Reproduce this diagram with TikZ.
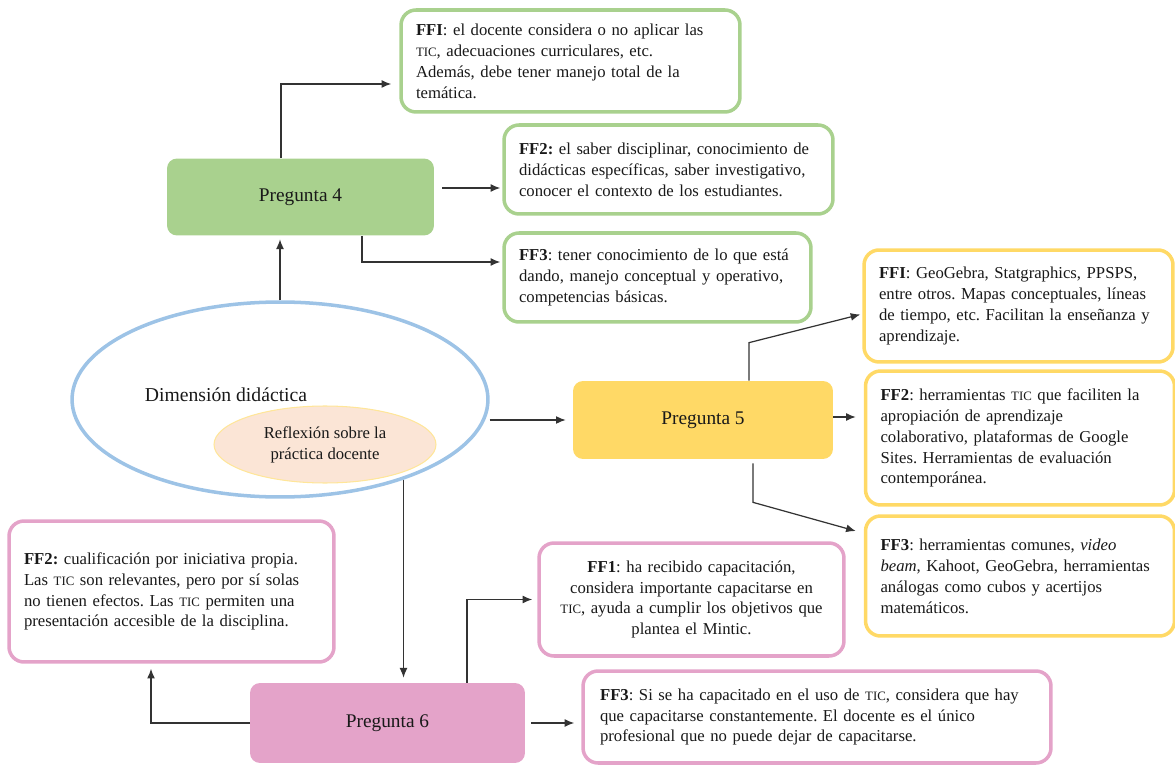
\documentclass[tikz,border=0pt]{standalone}
\usepackage{fontspec}
\setmainfont{Liberation Serif}
\usepackage{xcolor}
\usepackage{tikz}
\usetikzlibrary{shapes.geometric, arrows.meta}
\frenchspacing

\definecolor{verde}{HTML}{A9D18E}
\definecolor{amarillo}{HTML}{FFD966}
\definecolor{rosa}{HTML}{E4A3C9}
\definecolor{azul}{HTML}{9DC3E6}
\definecolor{durazno}{HTML}{FBE5D6}
\definecolor{crema}{HTML}{FFE699}

\newcommand{\tic}{{\fontsize{7.3}{8}\selectfont TIC}}

\begin{document}
\begin{tikzpicture}[>={Latex[length=5.5pt,width=4.5pt]}, x=0.02cm, y=-0.02cm,
    every node/.style={font=\fontsize{9.5}{11.9}\selectfont, text=black!90},
    caja/.style={draw, line width=2pt, rounded corners=0.3cm, align=left, inner xsep=0.3cm, fill=white},
    pregunta/.style={rounded corners=0.2cm, font=\fontsize{11}{13}\selectfont},
    flecha/.style={->, line width=0.7pt, draw=black!80}]
            \useasboundingbox (0,0) rectangle (1175,766);

            % Dimension didactica
            \node[ellipse, draw=azul, line width=2pt, minimum width=8.32cm, minimum height=3.9cm, inner sep=0pt] (Dimension) at (280,399.5) {};
            \node[font=\fontsize{11.2}{13}\selectfont] (Dimension-text) at (226,395) {Dimensión didáctica};
            \node[ellipse, draw=crema, fill=durazno, line width=0.6pt, minimum width=4.44cm, minimum height=1.54cm, inner sep=0pt, align=center] (Reflexion) at (325,444.5) {Reflexión sobre la\\práctica docente};

            % Pregunta 4
            \node[pregunta, fill=verde, minimum width=5.34cm, minimum height=1.54cm] (Pregunta-4) at (300.5,197) {Pregunta 4};
            \node[caja, draw=verde, text width=6.18cm, minimum height=2.04cm] (FF4-1) at (570.5,61) {\textbf{FFI}: el docente considera o no aplicar las\\ \tic, adecuaciones curriculares, etc.\\ Además, debe tener manejo total de la\\ temática.};
            \node[caja, draw=verde, text width=5.98cm, minimum height=1.78cm] (FF4-2) at (668.5,169.5) {\textbf{FF2:} el saber disciplinar, conocimiento de\\ didácticas específicas, saber investigativo,\\ conocer el contexto de los estudiantes.};
            \node[caja, draw=verde, text width=5.54cm, minimum height=1.78cm] (FF4-3) at (657.5,277.5) {\textbf{FF3}: tener conocimiento de lo que está\\ dando, manejo conceptual y operativo,\\ competencias básicas.};

            % Pregunta 5
            \node[pregunta, fill=amarillo, minimum width=5.2cm, minimum height=1.56cm] (Pregunta-5) at (703,420) {Pregunta 5};
            \node[caja, draw=amarillo, text width=5.58cm, minimum height=2.24cm] (FF5-1) at (1018.5,306) {\textbf{FFI}: GeoGebra, Statgraphics, PPSPS,\\ entre otros. Mapas conceptuales, líneas\\ de tiempo, etc. Facilitan la enseñanza y\\ aprendizaje.};
            \node[caja, draw=amarillo, text width=5.58cm, minimum height=2.68cm] (FF5-2) at (1020,438) {\textbf{FF2}: herramientas \tic{} que faciliten la\\ apropiación de aprendizaje\\ colaborativo, plataformas de Google\\ Sites. Herramientas de evaluación\\ contemporánea.};
            \node[caja, draw=amarillo, text width=5.58cm, minimum height=2.4cm] (FF5-3) at (1020,576) {\textbf{FF3}: herramientas comunes, \textit{video}\\ \textit{beam}, Kahoot, GeoGebra, herramientas\\ análogas como cubos y acertijos\\ matemáticos.};

            % Pregunta 6
            \node[pregunta, fill=rosa, minimum width=5.5cm, minimum height=1.6cm] (Pregunta-6) at (387.5,723) {Pregunta 6};
            \node[caja, draw=rosa, text width=5.9cm, minimum height=2.82cm] (FF6-2) at (171.5,591.5) {\textbf{FF2:} cualificación por iniciativa propia.\\ Las \tic{} son relevantes, pero por sí solas\\ no tienen efectos. Las \tic{} permiten una\\ presentación accesible de la disciplina.\\[0.25cm]};
            \node[caja, draw=rosa, text width=5.5cm, align=center, minimum height=2.26cm] (FF6-1) at (691.5,599.5) {\textbf{FF1}: ha recibido capacitación,\\ considera importante capacitarse en\\ \tic, ayuda a cumplir los objetivos que\\ plantea el Mintic.};
            \node[caja, draw=rosa, text width=8.68cm, inner xsep=0.34cm, minimum height=1.84cm] (FF6-3) at (817,717) {\textbf{FF3}: Si se ha capacitado en el uso de \tic, considera que hay\\ que capacitarse constantemente. El docente es el único\\ profesional que no puede dejar de capacitarse.};

            % Draw connections from the dimension
            \draw[flecha, shorten >=2pt] (Dimension.north) -- (Dimension.north |- Pregunta-4.south);
            \draw[flecha, shorten >=0.14cm] (Pregunta-5.west -| Dimension.east) -- (Pregunta-5.west);
            \draw[flecha, shorten >=0.1cm] (Dimension.-33) -- (Dimension.-33 |- Pregunta-6.north);

            % Pregunta 4 connections
            \draw[flecha, shorten >=0.16cm] ([xshift=-0.39cm]Pregunta-4.north) |- ([yshift=-0.46cm]FF4-1.west);
            \draw[flecha, shorten <=0.16cm, shorten >=0.04cm] ([yshift=0.18cm]Pregunta-4.east) -- ([yshift=0.18cm]Pregunta-4.east -| FF4-2.west);
            \draw[flecha, shorten >=0.04cm] ([xshift=1.23cm]Pregunta-4.south) |- ([yshift=0.31cm]FF4-3.west);

            % Pregunta 5 connections
            \draw[flecha, shorten >=0.04cm] ([xshift=0.92cm]Pregunta-5.north) -- ++(0,-38) -- ([yshift=-0.16cm]FF5-1.west);
            \draw[flecha, shorten >=0.16cm] ([yshift=0.06cm]Pregunta-5.east) -- ([yshift=0.06cm]Pregunta-5.east -| FF5-2.west);
            \draw[flecha, shorten <=0.08cm] ([xshift=1.0cm]Pregunta-5.south) -- ++(0,43) -- ([xshift=-0.16cm, yshift=0.9cm]FF5-3.west);

            % Pregunta 6 connections
            \draw[flecha, shorten >=0.1cm] (Pregunta-6.west) -| ([xshift=-0.41cm]FF6-2.south);
            \draw[flecha, shorten >=0.1cm] ([xshift=1.59cm]Pregunta-6.north) |- (FF6-1.west);
            \draw[flecha, shorten <=0.12cm, shorten >=0.14cm] (Pregunta-6.east) -- (Pregunta-6.east -| FF6-3.west);

        \end{tikzpicture}
\end{document}
